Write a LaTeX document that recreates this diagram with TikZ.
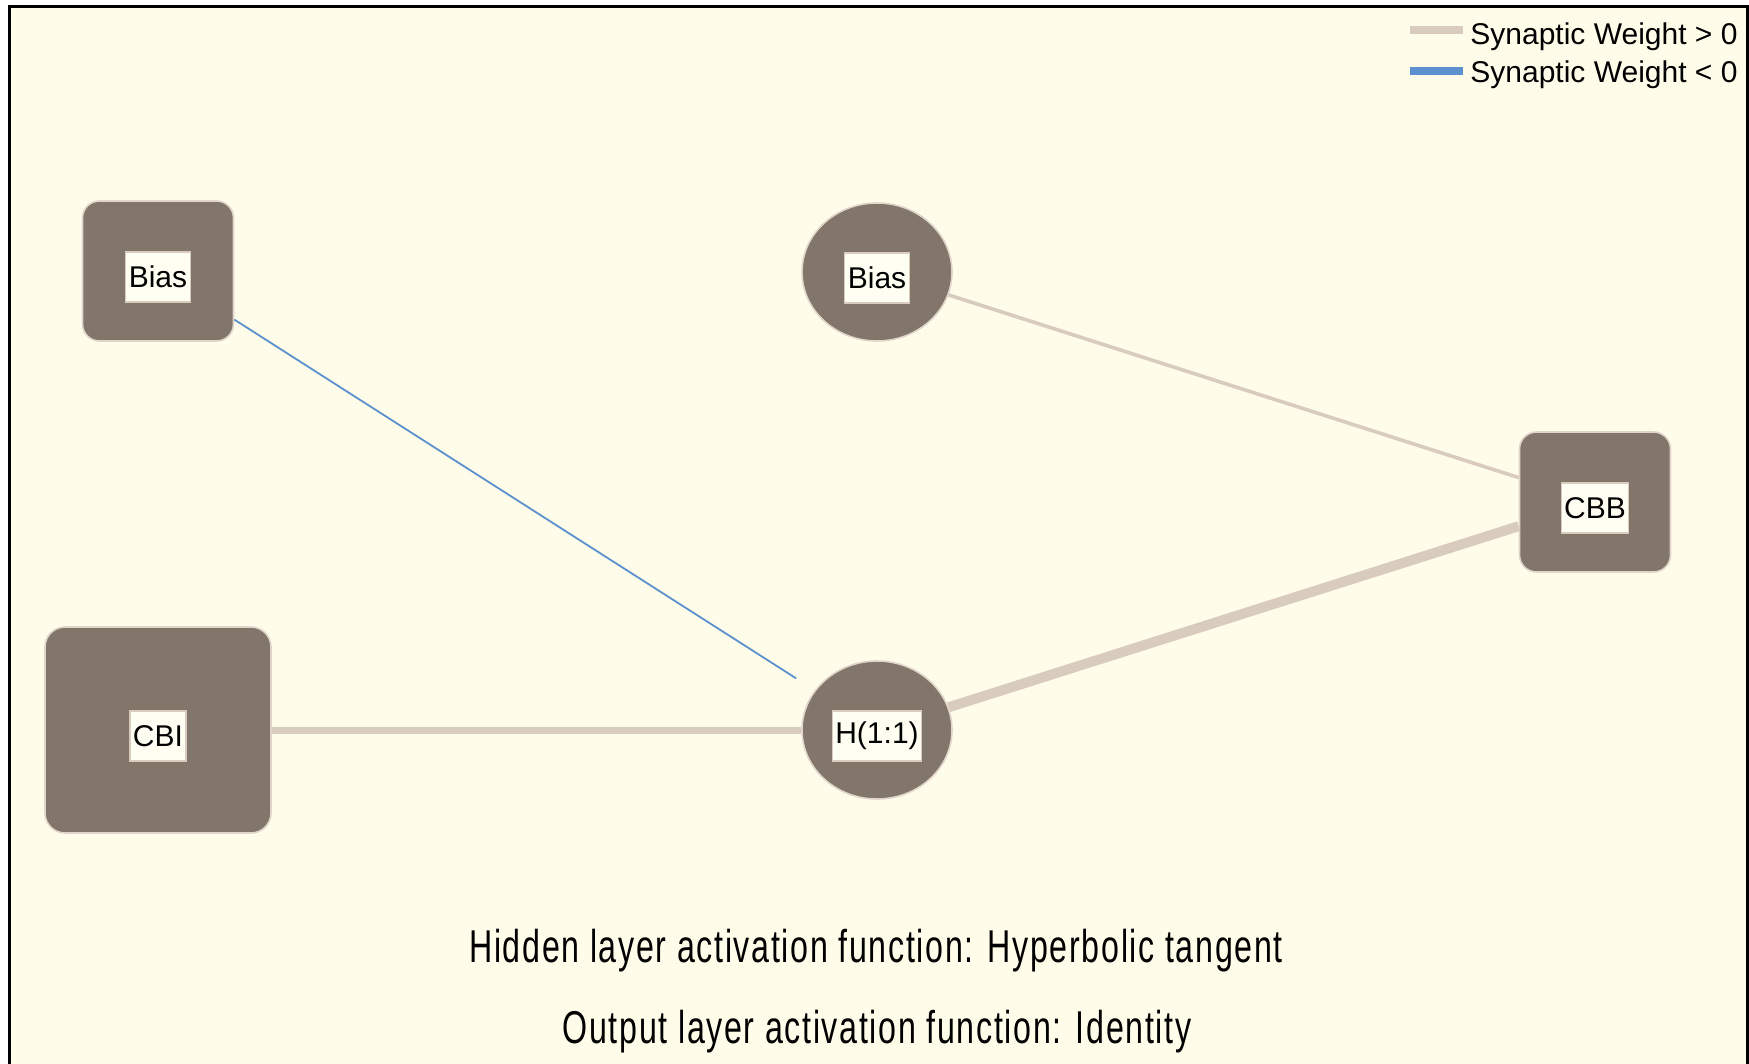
\documentclass[tikz,border=0pt]{standalone}
\usepackage{fontspec}
\setmainfont{Liberation Sans}
\newfontfamily\capfont[FakeStretch=0.7, LetterSpace=3.6]{Liberation Sans}
\usetikzlibrary{shapes.geometric}
\definecolor{paper}{HTML}{FFFDE9}
\definecolor{unitfill}{HTML}{82766A}
\definecolor{poswt}{HTML}{D9CBBE}
\definecolor{negwt}{HTML}{5C91CD}
\definecolor{tagfill}{HTML}{FFFEF2}
\begin{document}
\begin{tikzpicture}[x=0.5pt,y=-0.5pt,
  unit/.style={fill=unitfill, draw=poswt!80, line width=0.8pt, inner sep=0pt},
  squnit/.style={unit, rectangle, rounded corners=8.5pt, minimum width=75.5pt, minimum height=70pt},
  bigunit/.style={unit, rectangle, rounded corners=10pt, minimum width=113pt, minimum height=103pt},
  rdunit/.style={unit, ellipse, minimum width=75pt, minimum height=69pt},
  tag/.style={fill=tagfill, draw=poswt, line width=0.6pt, inner xsep=1.5pt, inner ysep=0pt,
    minimum height=25pt, font=\fontsize{15}{18}\selectfont, yshift=-3pt},
  poswire/.style={draw=poswt},
  negwire/.style={draw=negwt},
  caption/.style={anchor=base, inner sep=0pt, font=\capfont\fontsize{23}{26}\selectfont},
  keytext/.style={anchor=base west, inner sep=0pt, font=\fontsize{15}{18}\selectfont},
  keyline/.style={line width=4pt}]
\useasboundingbox (0,0) rectangle (1749,1064);
% page and frame
\fill[white] (0,0) rectangle (1749,1064);
\fill[paper] (9,7) rectangle (1747,1064);
\draw[line width=1.5pt] (9,1064) -- (9,7) -- (1747,7) -- (1747,1064);

% units
\node[squnit, label={[tag]center:Bias}] (bin) at (158,271) {};
\node[bigunit, label={[tag]center:CBI}] (cbi) at (158,730) {};
\node[rdunit, label={[tag]center:Bias}] (bhid) at (877,272) {};
\node[rdunit, label={[tag]center:H(1:1)}] (h11) at (877,730) {};
\node[squnit, label={[tag]center:CBB}] (cbb) at (1595,502) {};

% synaptic weights
\draw[negwire, line width=0.9pt, shorten >=11pt] (bin) -- (h11);
\draw[poswire, line width=1.8pt] (bhid) -- (cbb);
\draw[poswire, line width=3.5pt] (cbi) -- (h11);
\draw[poswire, line width=5pt] (h11) -- (cbb);

% legend
\coordinate (k1a) at (1410,30);
\coordinate (k1b) at (1463,30);
\coordinate (k2a) at (1410,71);
\coordinate (k2b) at (1463,71);
\draw[poswire, keyline] (k1a) -- (k1b);
\draw[negwire, keyline] (k2a) -- (k2b);
\node[keytext] (k1) at (1470,45) {Synaptic Weight > 0};
\node[keytext] (k2) at (1470,83) {Synaptic Weight < 0};

% captions
\node[caption] (hcap) at (876,962) {Hidden layer activation function: Hyperbolic tangent};
\node[caption] (ocap) at (877,1043) {Output layer activation function: Identity};
\end{tikzpicture}
\end{document}
